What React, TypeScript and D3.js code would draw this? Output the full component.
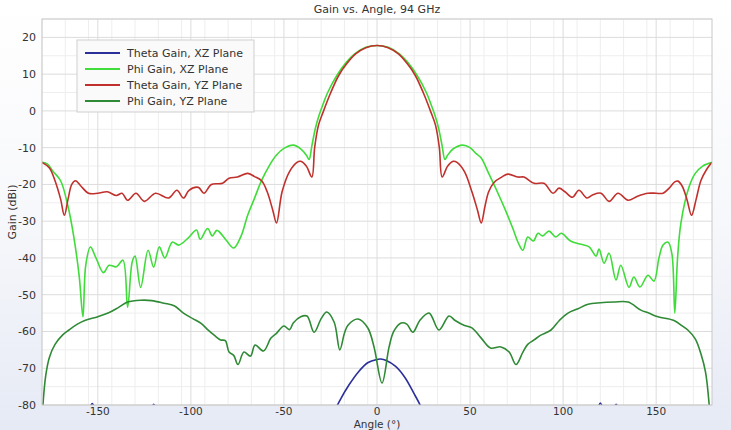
import React from 'react';
import * as d3 from 'd3';

type Pt = [number, number];

// angle (deg), gain (dBi)
const thetaGainXZ: Pt[] = [
  [-180, -95], [-160, -90], [-155, -82], [-153, -79.6], [-151, -82], [-145, -90],
  [-123, -84], [-120, -79.8], [-117, -84], [-110, -92], [-30, -92], [-24, -83],
  [-20, -78.8], [-15, -74.5], [-10, -71], [-5, -68.5], [0, -67.6], [2, -67.5],
  [5, -67.9], [10, -69.5], [15, -72.5], [20, -77], [24, -81], [30, -92], [110, -92],
  [118, -82], [120, -79.5], [122, -82], [125, -86], [126.5, -82], [128.5, -79.8],
  [130.5, -82], [140, -92], [180, -95],
];

const phiGainXZ: Pt[] = [
  [-180, -14], [-177, -14.5], [-174, -16.5], [-170, -19], [-166, -26], [-163, -34],
  [-160, -45], [-158, -56], [-156.5, -42], [-154, -37], [-151, -40], [-147, -44],
  [-144, -42], [-140, -42.4], [-136.5, -40.6], [-134, -53.4], [-131.5, -41],
  [-130, -39.5], [-127, -48], [-123, -37.9], [-120, -42.5], [-117, -37], [-114, -40],
  [-110, -35.7], [-106.5, -36.5], [-101.5, -34.6], [-97, -32.4], [-95, -34.9],
  [-91, -32], [-88.5, -34], [-86, -32.5], [-81, -35.2], [-77, -37.3], [-73, -34],
  [-69.5, -28.4], [-66, -24], [-62, -18.9], [-58, -15], [-54, -12], [-50, -10.2],
  [-45, -9.3], [-41, -10.3], [-38, -12], [-36.5, -13.2], [-35, -9.5], [-33, -4.5],
  [-31, -1], [-29, 1.8], [-26.5, 5], [-21.5, 9.7], [-16.5, 13.2], [-12, 15.5],
  [-6, 17.3], [0, 17.8], [6, 17.3], [12, 15.5], [16.5, 13.2], [21.5, 9.7], [26.5, 5],
  [29, 1.8], [31, -1], [33, -4.5], [35, -9.5], [36.5, -13.2], [38, -12], [41, -10.3],
  [46, -9.3], [50, -10], [53, -11.5], [56, -12.8], [60, -17], [65, -22.4], [69, -27],
  [73, -32], [76, -36], [78.4, -37.9], [81, -34.3], [84, -35.4], [86.5, -33.3],
  [89, -34], [92.4, -32.7], [96, -34.3], [99, -33.3], [104, -35.4], [109.6, -36.3],
  [114, -37], [117.7, -39.5], [119.3, -37.6], [122, -41.4], [124.7, -38.7],
  [128.4, -46], [131, -42], [135.4, -48], [138, -45.2], [141.3, -47.9], [145.6, -44.7],
  [148.8, -46.3], [151.5, -40], [153.7, -36.5], [156.4, -35.7], [158.5, -39],
  [160, -55], [161.5, -40], [163.3, -30.5], [167.6, -20.8], [171, -17], [175, -15],
  [180, -14],
];

const thetaGainYZ: Pt[] = [
  [-180, -14], [-176, -15.5], [-173, -19], [-170, -24], [-168, -28.4], [-166, -24],
  [-164, -20], [-162, -19], [-159, -20.5], [-155, -22.4], [-150, -22.4], [-145, -22],
  [-140, -23], [-137, -22.4], [-134, -24.3], [-129.5, -22.4], [-125, -24.6],
  [-119, -22.4], [-112, -23.7], [-107.5, -21.6], [-104, -23.7], [-101, -21.6],
  [-96, -20.8], [-93, -22.4], [-89, -20], [-83, -19.7], [-79.5, -18.3], [-75, -18],
  [-69.5, -17], [-66, -17.8], [-62, -19], [-59, -22], [-56, -27], [-54, -30.5],
  [-51, -22], [-47, -16.5], [-43, -14], [-41, -13.7], [-38, -15], [-35, -18],
  [-33.5, -10], [-31.5, -4], [-29, -0.4], [-25, 4.8], [-20.5, 9.7], [-16, 13],
  [-11.5, 15.5], [-6, 17.2], [0, 17.8], [6, 17.2], [11.5, 15.5], [16, 13],
  [20.5, 9.7], [25, 4.8], [29, -0.4], [31.5, -4], [33.5, -10], [35, -18], [38, -15],
  [41, -13.7], [43, -14], [47, -16.5], [51, -22], [54, -27], [56, -30.5], [58, -26],
  [60, -22], [63, -19.4], [67, -18], [70.4, -17.2], [75.8, -18], [79, -18],
  [84.4, -19.7], [89.7, -19.7], [94.6, -22.4], [97.8, -21], [101, -22], [105, -23.5],
  [108.5, -21.6], [112.8, -23.7], [116, -22.8], [120.4, -22.4], [124.7, -24.6],
  [129.5, -22.4], [134.9, -24.3], [140, -23.2], [145.6, -22.4], [150, -22.4],
  [153.7, -22.4], [157, -21], [160, -19.3], [161.7, -19.1], [164, -20.5],
  [166.5, -24], [169, -28.4], [171.5, -24], [174, -19], [177, -16], [180, -14],
];

const phiGainYZ: Pt[] = [
  [-179.5, -80], [-178, -72], [-176, -67], [-173, -63.5], [-169, -61], [-165.5, -59.6],
  [-161, -58], [-157, -57], [-150, -56], [-144.5, -55], [-139, -53.5], [-134, -52],
  [-127, -51.5], [-121, -51.6], [-114.5, -52.3], [-109, -53], [-104, -55], [-99, -56.5],
  [-94.5, -57.8], [-91, -59.5], [-87.5, -61], [-84, -62.3], [-81.5, -62.5],
  [-79.5, -65.6], [-77, -66.5], [-74.7, -69], [-71.5, -65.6], [-68, -66.7],
  [-65.5, -63.7], [-61, -65.3], [-57, -61.8], [-54, -60.5], [-50, -58.5], [-47, -59.5],
  [-45, -57.7], [-41, -56], [-37.6, -55.8], [-33.8, -60.2], [-30, -56.5], [-27, -54.7],
  [-23, -57.5], [-20, -65], [-17.5, -60.5], [-15.6, -58.3], [-10.2, -56.6], [-5, -59],
  [-1.6, -64.2], [2.7, -74], [6.5, -64.2], [9, -60], [13, -57.7], [16, -58],
  [19.3, -60.2], [23, -57], [28, -55], [33.3, -59.6], [38.7, -55.8], [42, -57],
  [46.7, -58.3], [51, -59], [56, -61.8], [61, -64.5], [66.6, -64.2], [71, -65.6],
  [74.7, -69], [78.4, -65.6], [81, -63.5], [84.4, -62.3], [88, -61], [93.5, -59.6],
  [98, -57], [102.6, -55], [108, -53.8], [113.4, -52.6], [120, -52.2], [127.3, -52],
  [134.9, -52], [141.8, -54.2], [146, -55], [151, -56], [159.6, -57], [164, -58.5],
  [167, -59.6], [171, -62], [174, -66], [176.5, -71], [178.5, -80],
];

const xTicks = [-150, -100, -50, 0, 50, 100, 150];
const yTicks = [20, 10, 0, -10, -20, -30, -40, -50, -60, -70, -80];

const series = [
  { name: 'Theta Gain, XZ Plane', data: thetaGainXZ, color: '#2b2f9a' },
  { name: 'Phi Gain, XZ Plane', data: phiGainXZ, color: '#3fdc3a' },
  { name: 'Theta Gain, YZ Plane', data: thetaGainYZ, color: '#c0302c' },
  { name: 'Phi Gain, YZ Plane', data: phiGainYZ, color: '#2f8a35' },
];

const W = 731;
const H = 430;
const margin = { top: 19, right: 19, bottom: 25, left: 42 };
const font = 'DejaVu Sans, sans-serif';

export default function App() {
  const x = d3.scaleLinear().domain([-180, 180]).range([margin.left, W - margin.right]);
  const y = d3.scaleLinear().domain([-80, 25]).range([H - margin.bottom, margin.top]);

  const line = d3.line<Pt>()
    .x(d => x(d[0]))
    .y(d => y(d[1]))
    .curve(d3.curveCatmullRom.alpha(0.5));

  const minorX = d3.range(-180, 180.01, 12.5).filter(v => v % 50 !== 0);
  const minorY = d3.range(-80, 25.01, 5).filter(v => v % 10 !== 0);
  const majorX = d3.range(-150, 151, 50);
  const majorY = d3.range(-80, 21, 10);

  const [x0, x1] = x.range();
  const [y0, y1] = y.range();

  return (
    <div style={{ position: 'fixed', left: 0, top: 0, width: W, height: H }}>
      <svg width={W} height={H} viewBox={`0 0 ${W} ${H}`} style={{ display: 'block' }}>
        <defs>
          <linearGradient id="bg" x1="0" y1="0" x2="0" y2="1">
            <stop offset="0" stopColor="#ffffff" />
            <stop offset="0.5" stopColor="#f7f8fb" />
            <stop offset="1" stopColor="#e6eaf5" />
          </linearGradient>
          <clipPath id="plot">
            <rect x={x0} y={y1} width={x1 - x0} height={y0 - y1} />
          </clipPath>
        </defs>
        <rect width={W} height={H} fill="url(#bg)" />
        <rect x={x0} y={y1} width={x1 - x0} height={y0 - y1} fill="#ffffff" />

        {/* grid */}
        {minorX.map(v => (
          <line key={'mx' + v} x1={x(v)} x2={x(v)} y1={y1} y2={y0} stroke="#eeeeee" strokeWidth={1} />
        ))}
        {minorY.map(v => (
          <line key={'my' + v} x1={x0} x2={x1} y1={y(v)} y2={y(v)} stroke="#eeeeee" strokeWidth={1} />
        ))}
        {majorX.map(v => (
          <line key={'gx' + v} x1={x(v)} x2={x(v)} y1={y1} y2={y0} stroke="#dcdcdc" strokeWidth={1} />
        ))}
        {majorY.map(v => (
          <line key={'gy' + v} x1={x0} x2={x1} y1={y(v)} y2={y(v)} stroke="#dcdcdc" strokeWidth={1} />
        ))}

        {/* curves */}
        <g clipPath="url(#plot)">
          {series.map(s => (
            <path key={s.name} d={line(s.data) ?? ''} fill="none" stroke={s.color} strokeWidth={1.6} />
          ))}
        </g>

        <rect x={x0} y={y1} width={x1 - x0} height={y0 - y1} fill="none" stroke="#c8c8c8" strokeWidth={1} />

        {/* axes */}
        {xTicks.map(v => (
          <text key={'xt' + v} x={x(v)} y={y0 + 9.5} textAnchor="middle" fontFamily={font} fontSize={10.5} fill="#333">
            {v}
          </text>
        ))}
        {yTicks.map(v => (
          <text key={'yt' + v} x={x0 - 6} y={y(v) + 4} textAnchor="end" fontFamily={font} fontSize={11} fill="#333">
            {v}
          </text>
        ))}
        <text x={(x0 + x1) / 2} y={H - 2} textAnchor="middle" fontFamily={font} fontSize={10.5} fill="#333">
          Angle (°)
        </text>
        <text
          transform={`translate(16,${(y0 + y1) / 2}) rotate(-90)`}
          textAnchor="middle"
          fontFamily={font}
          fontSize={11}
          fill="#333"
        >
          Gain (dBi)
        </text>
        <text x={(x0 + x1) / 2} y={13} textAnchor="middle" fontFamily={font} fontSize={11} fill="#333">
          Gain vs. Angle, 94 GHz
        </text>

        {/* legend */}
        <g transform="translate(77,40)">
          <rect width={177} height={72} fill="#fafafa" stroke="#cfcfcf" strokeWidth={1} />
          {series.map((s, i) => (
            <g key={s.name} transform={`translate(0,${13 + i * 16})`}>
              <line x1={8} x2={43} y1={0} y2={0} stroke={s.color} strokeWidth={2} />
              <text x={50} y={4} fontFamily={font} fontSize={11} fill="#333">
                {s.name}
              </text>
            </g>
          ))}
        </g>
      </svg>
    </div>
  );
}
